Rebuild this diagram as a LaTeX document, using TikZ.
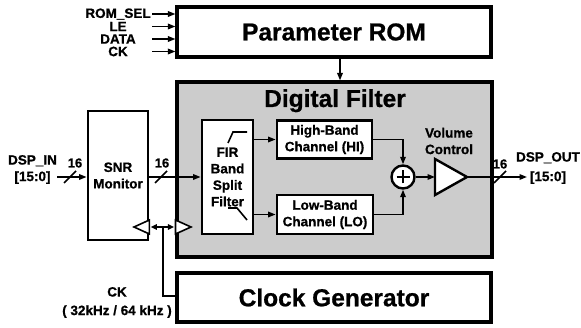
\documentclass[tikz,border=0pt]{standalone}
\usepackage{fontspec}
\setmainfont{Liberation Sans}[BoldFeatures={FakeBold=0.8}]
\usetikzlibrary{arrows.meta}
\definecolor{dfgray}{HTML}{CCCCCC}
\begin{document}
\begin{tikzpicture}[x=1pt,y=-1pt,
  big/.style={draw, line width=3.1pt, inner sep=0pt, font=\bfseries\fontsize{24.5}{28}\selectfont},
  blk/.style={draw, line width=2.8pt, fill=white, inner sep=0pt, align=center, font=\bfseries\fontsize{13.5}{16.5}\selectfont},
  sig/.style={line width=1.6pt, -{Triangle[length=7.5pt,width=5.5pt]}},
  dbl/.style={line width=1.6pt, {Triangle[length=6pt,width=5.5pt]}-{Triangle[length=6pt,width=5.5pt]}},
  wire/.style={line width=1.6pt},
  lbl/.style={font=\bfseries\fontsize{13.5}{16.5}\selectfont, align=center, inner sep=0pt},
  num/.style={font=\bfseries\fontsize{13}{15}\selectfont, inner sep=0pt},
  ttl/.style={font=\bfseries\fontsize{24.5}{28}\selectfont, inner sep=0pt},
  clktri/.style={line width=1.6pt, fill=white, line join=miter}]
\useasboundingbox (0,0) rectangle (581,328);

% main blocks
\node[big, minimum width=314pt, minimum height=50pt] (rom) at (334,32) {Parameter ROM};
\node[big, fill=dfgray, minimum width=315pt, minimum height=175pt] (df) at (334.5,169.5) {};
\node[ttl, anchor=base] (dftitle) at (335,107) {Digital Filter};
\node[big, minimum width=314pt, minimum height=49pt] (clk) at (334,297.5) {Clock Generator};
\node[blk, minimum width=60pt, minimum height=129pt] (snr) at (118,175.5) {SNR\\Monitor};
\node[blk, minimum width=51pt, minimum height=114pt] (fir) at (227.5,177) {FIR\\Band\\Split\\Filter};
\node[blk, minimum width=95pt, minimum height=38pt] (hi) at (324.5,139.5) {High-Band\\Channel (HI)};
\node[blk, minimum width=96pt, minimum height=39pt] (lo) at (325,214.5) {Low-Band\\Channel (LO)};
\node[circle, draw, line width=2.4pt, fill=white, minimum size=23pt, inner sep=0pt] (sum) at (403,177) {};
\draw[line width=2.6pt] ([xshift=-6.5pt]sum.center) -- ([xshift=6.5pt]sum.center);
\draw[line width=2.6pt] ([yshift=-6.5pt]sum.center) -- ([yshift=6.5pt]sum.center);

% volume control amplifier
\coordinate (vin) at (435,177);
\coordinate (vout) at (467,177);
\draw[line width=2.4pt, fill=white, line join=miter] (435,159) -- (vout) -- (435,195) -- cycle;
\node[lbl] (vol) at (449,141) {Volume\\Control};

% filter symbols inside FIR
\draw[wire] (228,143) -- (233,132) -- (247,132);
\draw[wire] (228,208) -- (237,208) -- (247,220);

% ROM inputs
\node[lbl] (l1) at (118,14) {ROM\_SEL};
\node[lbl] (l2) at (118,26.5) {LE};
\node[lbl] (l3) at (118,39) {DATA};
\node[lbl] (l4) at (118,51.5) {CK};
\coordinate (i1) at (152,14);
\coordinate (i2) at (152,26.5);
\coordinate (i3) at (152,39);
\coordinate (i4) at (152,51.5);
\draw[sig] (i1) -- (i1 -| rom.west);
\draw[sig] (i2) -- (i2 -| rom.west);
\draw[sig] (i3) -- (i3 -| rom.west);
\draw[sig] (i4) -- (i4 -| rom.west);

% ROM to filter
\draw[sig] ([xshift=6pt]rom.south) -- ([xshift=6pt]rom.south |- df.north);

% DSP_IN
\node[lbl] (dspin) at (32.5,169.5) {DSP\_IN\\{[15:0]}};
\coordinate (inA) at (57,177);
\draw[sig] (inA) -- (inA -| snr.west);
\draw[wire] (64,183) -- (76,171);
\node[num] (n1) at (75,163) {16};

% SNR to FIR
\draw[sig] (snr.east |- fir.west) -- (fir.west);
\draw[wire] (155,183) -- (167,171);
\node[num] (n2) at (162,163) {16};

% FIR to channels
\draw[sig] (fir.east |- hi.west) -- (hi.west);
\draw[sig] (fir.east |- lo.west) -- (lo.west);

% channels to sum
\draw[sig] (hi.east) -| (sum.north);
\draw[sig] (lo.east) -| (sum.south);
\draw[sig] (sum.east) -- (vin);

% output
\coordinate (outA) at (527,177);
\draw[sig] (vout) -- (outA);
\draw[wire] (494,183) -- (506,171);
\node[num] (n3) at (500,164) {16};
\node[lbl] (dspout) at (548,168) {DSP\_OUT\\[3pt]{[15:0]}};

% clock
\draw[clktri] (snr.east |- 0,220) -- (134,227) -- (snr.east |- 0,234) -- cycle;
\draw[clktri] (df.west |- 0,220) -- (191,227) -- (df.west |- 0,234) -- cycle;
\draw[dbl] ([xshift=1.4pt]snr.east |- 0,227) -- ([xshift=-1.5pt]df.west |- 0,227);
\coordinate (ckj) at (163,227);
\draw[wire] (ckj) |- ([yshift=1.5pt]clk.west);
\node[lbl] (cklbl) at (117,302.5) {CK\\[2pt]( 32kHz / 64 kHz )};
\end{tikzpicture}
\end{document}
